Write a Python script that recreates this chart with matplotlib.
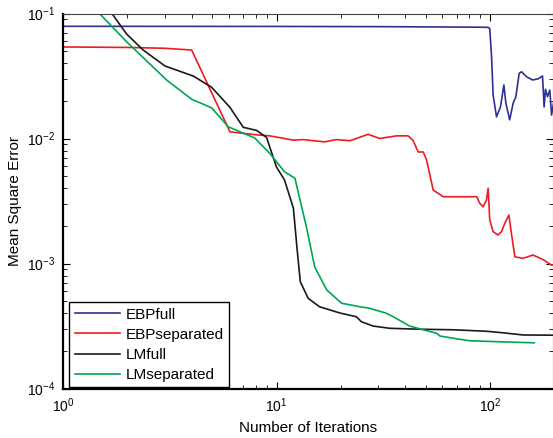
import matplotlib
matplotlib.use("Agg")
import matplotlib.pyplot as plt
import numpy as np

plt.rcParams['font.family'] = ['Liberation Sans', 'DejaVu Sans']
plt.rcParams['mathtext.fontset'] = 'custom'
plt.rcParams['mathtext.rm'] = 'Liberation Sans'
plt.rcParams['mathtext.it'] = 'Liberation Sans:italic'
plt.rcParams['mathtext.bf'] = 'Liberation Sans:bold'
plt.rcParams['axes.unicode_minus'] = False

# EBPfull
ebp_full_x = [1, 10, 30, 60, 90, 98, 100, 102, 103.7, 107.6, 112.3, 116.5, 119, 124, 128.8,
              132.6, 137.4, 141, 148.7, 158.8, 168.6, 176.8, 179.9, 182.6, 186.6, 191.3,
              194.9, 200]
ebp_full_y = [0.079, 0.0788, 0.0785, 0.078, 0.0777, 0.0775, 0.076, 0.045, 0.0223, 0.0149,
              0.0179, 0.0268, 0.0192, 0.0141, 0.0192, 0.0216, 0.0332, 0.0342, 0.0312, 0.0294,
              0.030, 0.0316, 0.0179, 0.0248, 0.0216, 0.0244, 0.0154, 0.02]

# EBPseparated
ebp_sep_x = [1, 2, 3, 4.0, 6.05, 8.07, 9.3, 12.0, 13.3, 16.8, 19.1, 22.1, 26.9, 30.5, 36.6,
             41.4, 43.6, 46.2, 48.8, 50.6, 54.3, 60.5, 69.7, 86.9, 89.8, 93.0, 96.5, 98.3,
             100, 103.7, 109.2, 113.7, 117.6, 123, 126.3, 131.2, 143.3, 159.6, 178.6, 194.9, 200]
ebp_sep_y = [0.054, 0.0535, 0.0527, 0.051, 0.0113, 0.0107, 0.0105, 0.0097, 0.0098, 0.0094,
             0.0098, 0.0096, 0.0108, 0.0100, 0.0105, 0.0105, 0.0097, 0.0078, 0.0078, 0.0067,
             0.00387, 0.00342, 0.00342, 0.00342, 0.00303, 0.00284, 0.00322, 0.0040, 0.00223,
             0.0018, 0.00169, 0.0018, 0.0021, 0.00244, 0.00175, 0.00113, 0.0011, 0.00117,
             0.00107, 0.00097, 0.00098]

# LMfull
lm_full_x = [1, 1.98, 2.37, 3.0, 4.07, 4.96, 6.04, 6.98, 8.07, 8.98, 10.0, 10.9, 12.0, 12.5,
             12.93, 14.07, 15.9, 19.8, 23.7, 25.0, 28.4, 34.0, 47.0, 67.3, 96.5, 115.5, 143.3,
             200]
lm_full_y = [0.35, 0.0686, 0.051, 0.038, 0.0316, 0.0257, 0.0178, 0.0123, 0.0116, 0.0102,
             0.0059, 0.00466, 0.00277, 0.00128, 0.000715, 0.000527, 0.000451, 0.000402,
             0.000375, 0.000342, 0.000316, 0.000303, 0.000298, 0.000295, 0.000287, 0.000279,
             0.000268, 0.000267]

# LMseparated
lm_sep_x = [1, 1.98, 3.05, 4.0, 4.96, 5.94, 7.9, 9.3, 10.9, 12.2, 13.8, 15.1, 17.2, 20.2,
            24.6, 27.4, 32.7, 35.3, 42.1, 48.8, 56.3, 58.4, 69.7, 80.6, 115.5, 161.5]
lm_sep_y = [0.2, 0.0595, 0.0294, 0.0206, 0.0176, 0.0124, 0.0101, 0.0076, 0.00542, 0.00481,
            0.00197, 0.00094, 0.000614, 0.000481, 0.000451, 0.000438, 0.0004, 0.000375,
            0.000316, 0.000295, 0.000277, 0.000263, 0.00025, 0.000241, 0.000236, 0.000232]

fig = plt.figure(figsize=(5.53, 4.38), dpi=100)
ax = fig.add_axes([63.3 / 553, 49.5 / 438, 489.7 / 553, 375 / 438])

lw = 1.2
ax.plot(ebp_full_x, ebp_full_y, color='#2E3192', lw=lw, label='EBPfull')
ax.plot(ebp_sep_x, ebp_sep_y, color='#ED1C24', lw=lw, label='EBPseparated')
ax.plot(lm_full_x, lm_full_y, color='#1a1a1a', lw=lw, label='LMfull')
ax.plot(lm_sep_x, lm_sep_y, color='#00A651', lw=lw, label='LMseparated')

ax.set_xscale('log')
ax.set_yscale('log')
ax.set_xlim(1, 198)
ax.set_ylim(1e-4, 1e-1)

ax.tick_params(which='both', direction='in', top=True, right=True, labelsize=10)
ax.tick_params(which='major', length=5, width=0.8)
ax.tick_params(which='minor', length=3, width=0.6)
ax.tick_params(axis='x', which='major', pad=6)
ax.tick_params(axis='y', which='major', pad=6)
for lab in ax.get_yticklabels():
    lab.set_verticalalignment('center_baseline')
for s in ['left', 'bottom']:
    ax.spines[s].set_linewidth(1.6)
for s in ['top', 'right']:
    ax.spines[s].set_linewidth(0.8)
    ax.spines[s].set_color('#444444')

ax.set_xlabel('Number of Iterations', fontsize=11, labelpad=4)
ax.set_ylabel('Mean Square Error', fontsize=11, labelpad=3)

leg = ax.legend(loc='lower left', bbox_to_anchor=(0.012, 0.003), borderaxespad=0,
                fancybox=False, framealpha=1, edgecolor='black', fontsize=11,
                handlelength=3.0, handletextpad=0.35, labelspacing=0.4, borderpad=0.35)
leg.get_frame().set_linewidth(1.0)

fig.savefig('out.png', dpi=100)
